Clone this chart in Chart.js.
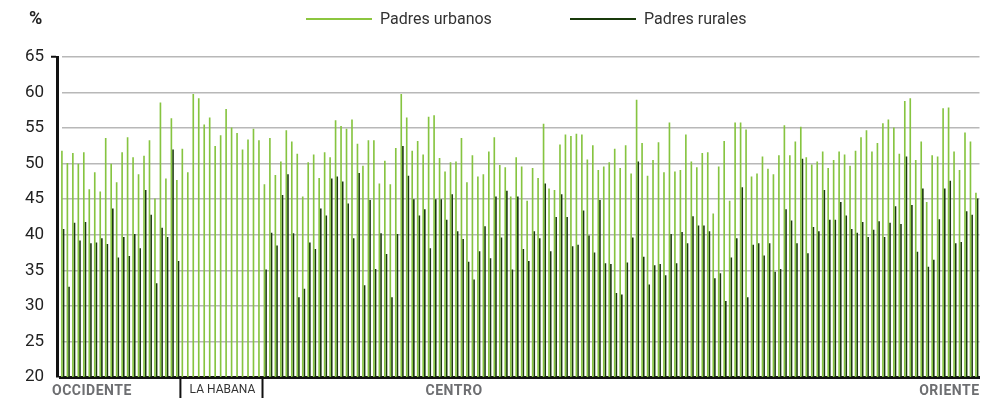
<!DOCTYPE html>
<html>
<head>
<meta charset="utf-8">
<script src="https://cdn.jsdelivr.net/npm/chart.js@4/dist/chart.umd.min.js"></script>
<style>
  body{margin:0;background:#fff;font-family:Roboto,sans-serif}
  #wrap{position:relative;width:998px;height:402px}
  .lg{position:absolute;top:9px;font:16px Roboto;color:#333;line-height:20px}
  .lg i{position:absolute;top:9px;height:2px;width:66px}
</style>
</head>
<body>
<div id="wrap">
  <canvas id="chart" width="998" height="402"></canvas>
  <div style="position:absolute;left:29px;top:7px;font:bold 18px Roboto;color:#222">%</div>
  <div class="lg" style="left:306px"><i style="left:0;background:#8cc63f"></i><span style="margin-left:74px">Padres urbanos</span></div>
  <div class="lg" style="left:570px"><i style="left:0;background:#193a0b"></i><span style="margin-left:74px">Padres rurales</span></div>
</div>
<script>
// regiones (cantidad de municipios en cada una)
const regiones = ['OCCIDENTE', 'LA HABANA', 'CENTRO Y ORIENTE'];
const cantidades = [22, 15, 131];

// % padres urbanos, en orden
const urbanos = [
  51.8,50.1,51.5,50.0,51.6,46.4,48.8,46.1,53.6,50.0,47.4,51.6,53.7,50.9,48.5,51.1,53.3,45.1,58.6,47.9,56.4,47.7,
  52.1,48.8,59.8,59.2,55.5,56.5,52.5,54.0,57.7,55.1,54.3,52.0,53.4,54.9,53.3,
  47.1,53.6,48.4,50.3,54.7,53.1,51.4,45.4,50.2,51.3,48.0,51.6,50.9,56.1,55.3,54.9,56.2,52.8,49.7,53.3,
  53.3,47.2,50.4,47.1,52.2,59.8,56.5,51.8,53.2,51.3,56.6,56.8,50.8,48.9,50.2,50.3,53.6,47.4,51.2,48.2,
  48.5,51.7,53.7,49.8,49.5,45.4,50.9,49.6,44.8,49.4,48.0,55.6,46.5,46.3,52.7,54.1,53.9,54.2,54.1,50.6,
  52.6,49.1,49.6,50.2,52.1,49.4,52.6,48.6,59.0,52.9,48.3,50.5,53.0,48.8,55.8,48.9,49.1,54.1,50.3,49.5,
  51.5,51.6,43.0,49.6,53.2,44.8,55.8,55.8,54.8,48.2,48.6,51.0,49.3,48.5,51.2,55.4,51.2,53.1,55.2,50.9,
  49.9,50.3,51.7,49.4,50.5,51.7,51.3,49.7,51.8,53.7,54.7,51.7,52.9,55.7,56.2,55.1,51.4,58.8,59.2,50.5,
  53.1,44.6,51.2,51.0,57.8,57.9,51.7,49.1,54.4,53.1,45.9
];

// % padres rurales (La Habana sin dato)
const rurales = [
  40.8,32.7,41.7,39.2,41.8,38.8,38.9,39.5,38.7,43.7,36.8,39.7,37.0,40.1,38.1,46.3,42.8,33.2,41.0,39.7,52.0,36.3,
  null,null,null,null,null,null,null,null,null,null,null,null,null,null,null,
  35.1,40.3,38.5,45.6,48.5,40.2,31.2,32.4,38.9,38.0,43.7,42.7,47.9,48.2,47.5,44.4,39.5,48.7,32.9,44.9,
  35.2,40.2,37.3,31.2,40.1,52.5,48.3,45.0,42.7,43.6,38.1,45.0,45.0,42.1,45.7,40.5,39.4,36.2,33.7,37.7,
  41.2,36.7,45.4,39.6,46.2,35.1,45.4,38.0,36.3,40.5,39.5,47.2,37.7,42.5,45.7,42.5,38.4,38.6,43.4,39.9,
  37.5,44.9,36.0,35.9,31.8,31.6,36.1,39.6,50.3,36.9,33.0,35.7,35.9,34.3,40.1,36.0,40.4,38.8,42.6,41.3,
  41.3,40.5,33.9,34.6,30.7,36.8,39.5,46.7,31.2,38.6,38.8,37.1,38.8,34.8,35.2,43.6,42.0,38.8,50.7,37.4,
  41.1,40.5,46.3,42.1,42.1,44.6,42.7,40.8,40.3,41.8,39.7,40.7,41.9,39.7,41.7,44.0,41.5,51.0,44.2,37.6,
  46.5,35.5,36.5,42.2,46.5,47.6,38.8,39.0,43.3,42.8,45.1
];

const yTicks = [20, 25, 30, 35, 40, 45, 50, 55, 60, 65];

const labels = [];
regiones.forEach((r, k) => { for (let i = 1; i <= cantidades[k]; i++) labels.push(r + ' ' + i); });

// the y axis line sits a few px left of the first bar
const axisGap = {
  id: 'axisGap',
  afterLayout(chart){ chart.scales.y.right -= 3; }
};

const regionLabels = {
  id: 'regionLabels',
  afterDraw(chart){
    const ctx = chart.ctx, x = chart.scales.x, a = chart.chartArea;
    const mid = i => (x.getPixelForValue(i) + x.getPixelForValue(i + 1)) / 2;
    const s1 = mid(cantidades[0] - 1), s2 = mid(cantidades[0] + cantidades[1] - 1);
    ctx.save();
    ctx.strokeStyle = '#111'; ctx.lineWidth = 2;
    [s1, s2].forEach(s => { ctx.beginPath(); ctx.moveTo(s, a.bottom); ctx.lineTo(s, a.bottom + 21); ctx.stroke(); });
    ctx.textBaseline = 'middle';
    ctx.letterSpacing = '0.5px';
    ctx.font = 'bold 14px Roboto'; ctx.fillStyle = '#6d6e71';
    ctx.textAlign = 'left';  ctx.fillText('OCCIDENTE', 52, a.bottom + 14);
    ctx.textAlign = 'center'; ctx.fillText('CENTRO', mid(71), a.bottom + 14);
    ctx.textAlign = 'right'; ctx.fillText('ORIENTE', a.right, a.bottom + 14);
    ctx.letterSpacing = '0px';
    ctx.font = '12px Roboto'; ctx.fillStyle = '#333';
    ctx.textAlign = 'center'; ctx.fillText('LA HABANA', (s1 + s2) / 2 + 1, a.bottom + 13);
    ctx.restore();
  }
};

new Chart(document.getElementById('chart'), {
  type: 'bar',
  data: {
    labels,
    datasets: [
      { label: 'Padres urbanos', data: urbanos, backgroundColor: '#86c440' },
      { label: 'Padres rurales', data: rurales, backgroundColor: '#1b3810' }
    ]
  },
  options: {
    responsive: false,
    animation: false,
    layout: { padding: { top: 57, right: 18.5, left: 0, bottom: 0 } },
    datasets: { bar: { barPercentage: 1, categoryPercentage: 0.6 } },
    plugins: { legend: { display: false }, tooltip: { enabled: false } },
    scales: {
      x: {
        ticks: { display: false },
        grid: { display: false },
        border: { color: '#111', width: 3 },
        afterFit: s => { s.height = 25; }
      },
      y: {
        min: 20, max: 65,
        afterBuildTicks: s => { s.ticks = yTicks.map(v => ({ value: v })); },
        ticks: { font: { family: 'Roboto', size: 17 }, color: '#222', padding: 7 },
        grid: {
          color: '#b8b8b8', lineWidth: 1.5, tickLength: 6, tickWidth: 2,
          tickColor: c => c.tick && c.tick.value === 65 ? '#111' : 'rgba(0,0,0,0)'
        },
        border: { color: '#111', width: 3 },
        afterFit: s => { s.width = 60; }
      }
    }
  },
  plugins: [axisGap, regionLabels]
});
</script>
</body>
</html>
